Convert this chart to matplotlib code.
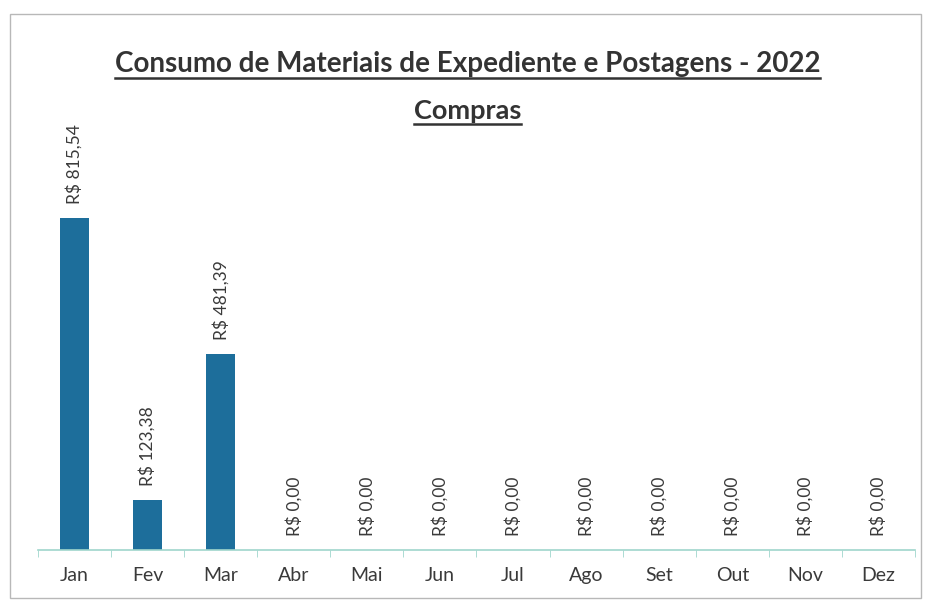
import matplotlib
matplotlib.use("Agg")
import matplotlib.pyplot as plt
from matplotlib.lines import Line2D
from matplotlib.patches import Rectangle

meses = ['Jan', 'Fev', 'Mar', 'Abr', 'Mai', 'Jun', 'Jul', 'Ago', 'Set', 'Out', 'Nov', 'Dez']
valores = [815.54, 123.38, 481.39, 0, 0, 0, 0, 0, 0, 0, 0, 0]
rotulos = ['R$ 815,54', 'R$ 123,38', 'R$ 481,39'] + ['R$ 0,00'] * 9

plt.rcParams['font.family'] = ['Lato', 'DejaVu Sans']

fig = plt.figure(figsize=(9.31, 6.11), dpi=100)
fig.add_artist(Rectangle((0.011, 0.022), 0.978, 0.955, transform=fig.transFigure,
                         fill=False, edgecolor='#b8b8b8', linewidth=1.0))

ax = fig.add_axes([0.0408, 0.0998, 0.942, 0.666])
x = list(range(len(meses)))
ax.bar(x, valores, width=0.39, color='#1d6e9b')
for xi, v, r in zip(x, valores, rotulos):
    ax.annotate(r, (xi, v), xytext=(0, 10), textcoords='offset points',
                rotation=90, ha='center', va='bottom', fontsize=12.5, color='#3a3a3a')

ax.set_xlim(-0.5, 11.5)
ax.set_ylim(0, 1000)
ax.set_yticks([])
for s in ['top', 'right', 'left']:
    ax.spines[s].set_visible(False)
ax.spines['bottom'].set_color('#9fd6cc')
ax.spines['bottom'].set_linewidth(1.2)
ax.set_xticks(x)
ax.set_xticklabels(meses, fontsize=14, color='#3a3a3a')
ax.tick_params(axis='x', length=0, pad=12)
ax.set_xticks([i - 0.5 for i in range(13)], minor=True)
ax.tick_params(axis='x', which='minor', length=5, color='#9fd6cc')

t1 = fig.text(0.502, 0.896, 'Consumo de Materiais de Expediente e Postagens - 2022',
              ha='center', va='center', fontsize=20, fontweight='bold', color='#333333')
t2 = fig.text(0.502, 0.818, 'Compras', ha='center', va='center',
              fontsize=19.5, fontweight='bold', color='#333333')

fig.canvas.draw()
r = fig.canvas.get_renderer()
for t in (t1, t2):
    bb = t.get_window_extent(r).transformed(fig.transFigure.inverted())
    fig.add_artist(Line2D([bb.x0, bb.x1], [bb.y0 - 0.002, bb.y0 - 0.002],
                          transform=fig.transFigure, color='#333333', linewidth=1.8))

fig.savefig('out.png', dpi=100)
